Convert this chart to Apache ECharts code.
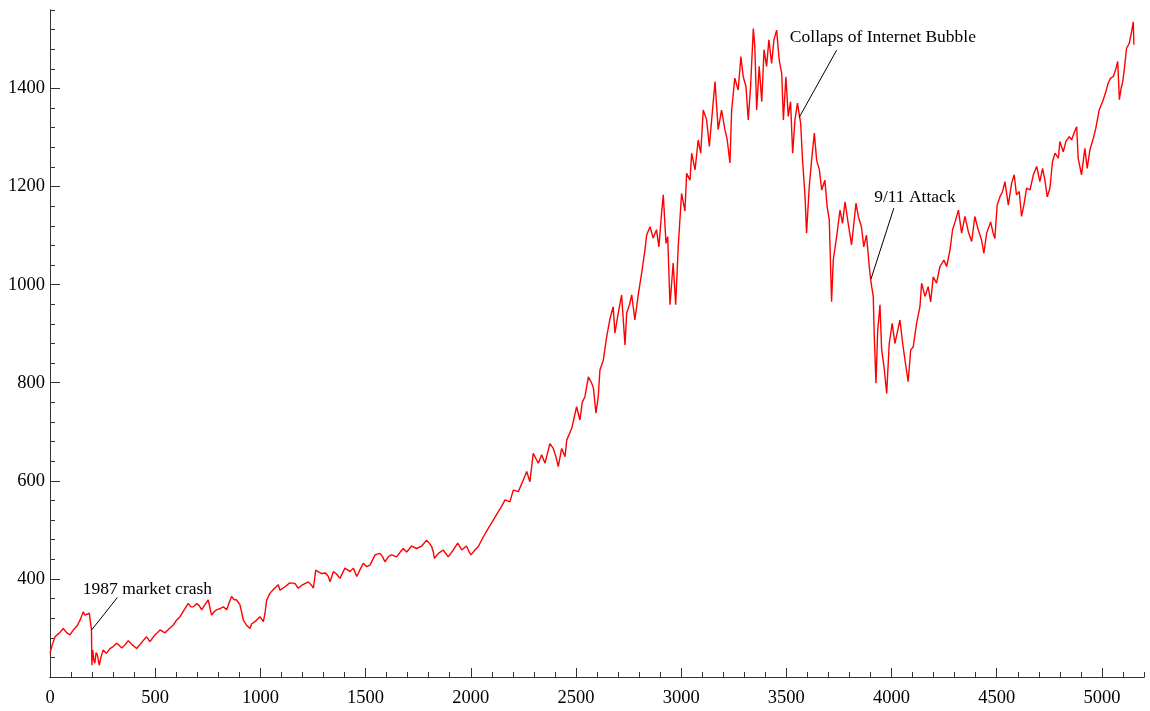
<!DOCTYPE html>
<html>
<head>
<meta charset="utf-8">
<title>S&amp;P 500 daily close</title>
<script src="https://cdn.jsdelivr.net/npm/echarts@6/dist/echarts.min.js"></script>
<style>
  html, body { margin: 0; padding: 0; background: #fff; }
  #chart { width: 1150px; height: 711px; }
</style>
</head>
<body>
<div id="chart"></div>
<script>
// Trading-day index (x) and closing level (y) of the index, 1987 onwards
const tradingDay = [
  0,10,24,45,63,80,95,111,130,145,158,166,174,187,193,197,199,203,208,213,219,225,234,243,253,268,285,300,317,330,
  341,355,372,390,412,435,459,475,495,510,523,547,565,586,600,618,635,657,670,681,697,710,721,737,752,768,780,792,810,824,
  840,852,863,875,887,903,912,919,935,951,958,966,980,998,1006,1014,1022,1030,1046,1065,1085,1093,
  1117,1140,1164,1180,1200,1228,1245,1252,1263,1278,1291,1310,1323,1331,1347,1362,1378,1402,1426,1442,1458,1475,1489,1505,1521,
  1545,1568,1580,1592,1610,1624,1648,1665,1679,1695,1719,1743,1767,1790,1805,1814,1822,1827,1846,1869,1893,1917,1938,1957,1980,
  1992,2001,2020,2036,2060,2083,2107,2131,
  2145,2163,2186,2202,2226,2250,2266,2281,2297,2310,2321,2337,2353,2376,2392,2405,2416,2432,2448,2456,2480,2503,2519,2530,2543,
  2559,2575,2583,2595,2606,2614,2630,2646,2662,2677,2685,2701,2717,2733,2741,2755,2765,2780,2796,2812,2828,2836,2852,2867,2883,
  2894,2907,2915,2928,2936,2947,2962,2974,2986,
  3002,3018,3026,3042,3050,3066,3081,3093,3105,3121,3134,3145,3161,3176,3192,3208,3219,3232,3240,3255,3271,3284,3295,3308,3319,
  3330,3343,3350,3359,3371,3383,3394,3406,3417,3430,3441,3454,3466,3478,3486,3498,3509,3520,3530,3541,3553,3568,3577,3589,3596,
  3609,3620,3633,3644,3657,3668,3683,3694,3704,3715,3723,3739,3755,3767,3779,3795,3810,3831,3842,3857,3868,3881,3894,3902,3913,
  3918,3926,3934,3945,3953,3964,3977,3989,4003,4016,4040,4053,4064,4079,4091,4103,4119,4135,4143,4159,4174,4186,4198,4214,4230,
  4249,4262,4278,4290,4302,4318,4333,4349,4365,4381,4396,4412,4428,4439,4452,4471,4483,4491,4502,
  4515,4528,4539,4555,4571,4583,4594,4607,4618,4629,4642,4658,4674,4690,4705,4718,4729,4740,4753,4765,4777,4793,4800,4816,4829,
  4845,4856,4867,4880,4887,4903,4919,4930,4943,4959,4971,4987,5003,5019,5030,5041,5054,5067,5075,5083,5091,5099,5107,5117,5130,
  5138,5149,5152
];

const closeLevel = [
  248,265,282,290,299,290,286,296,305,318,333,326,323,330,309,298,224,255,235,228,250,245,224,242,255,248,258,262,269,264,
  259,265,274,266,258,270,282,272,284,290,296,290,298,306,315,323,335,350,343,343,350,345,337,348,357,326,333,337,340,343,
  337,352,364,358,357,347,330,316,305,299,308,309,315,323,326,313,330,357,371,380,388,377,
  384,392,391,381,388,394,386,381,418,414,411,412,405,394,415,410,401,422,415,422,405,420,432,425,428,
  449,452,446,435,446,449,445,455,462,455,467,462,467,479,472,466,455,442,452,459,445,459,473,459,467,
  455,449,459,466,486,503,520,537,
  547,561,557,581,578,602,619,598,656,645,636,653,636,676,666,649,629,666,649,683,707,751,724,760,772,
  812,799,789,738,772,826,846,894,931,955,901,942,979,877,942,960,979,928,979,1023,1071,1101,1118,1095,1112,
  1077,1146,1183,1084,1098,959,1044,959,1077,
  1186,1150,1227,1213,1268,1234,1295,1268,1356,1336,1282,1336,1414,1316,1356,1316,1295,1248,1356,1421,1397,1465,1424,1404,1336,
  1404,1522,1486,1356,1445,1373,1479,1445,1499,1451,1499,1519,1458,1431,1336,1424,1343,1373,1268,1336,1370,1329,1254,1179,1105,
  1200,1254,1309,1254,1234,1193,1213,1159,1132,965,1050,1098,1152,1125,1169,1122,1081,1166,1139,1118,1077,1101,1037,1006,976,
  894,799,904,959,867,833,778,880,921,880,928,880,846,802,867,873,921,955,1003,976,996,965,1016,1003,1037,
  1050,1037,1071,1112,1128,1152,1105,1139,1108,1088,1139,1112,1091,1064,1105,1128,1105,1094,1162,
  1179,1190,1210,1162,1207,1224,1183,1190,1139,1162,1197,1193,1224,1241,1210,1237,1213,1179,1197,1251,1268,1258,1292,1271,1292,
  1302,1295,1309,1322,1258,1224,1278,1237,1275,1298,1319,1356,1373,1394,1411,1421,1424,1441,1455,1377,1400,1414,1441,1482,1492,
  1509,1536,1489
];

// Axis ranges and tick spacing
const xRange = [0, 5200];
const yRange = [200, 1560];
const xMajorStep = 500, xMinorStep = 100;
const yMajorStep = 200, yMinorStep = 40;

// Event notes: text, where the pointer touches the curve, where it meets the text, text centre
const noteText = ['1987 market crash', 'Collaps of Internet Bubble', '9/11 Attack'];
const notePointAt = [[198, 296], [3561, 1341], [3902, 1011]];
const notePointerEnd = [[320, 362], [3739, 1478], [4011, 1156]];
const noteTextAt = [[463, 379], [3959, 1505], [4111, 1177]];

const FONT = '"Liberation Serif", "Times New Roman", serif';
const AXIS_COLOR = '#333';

const seriesData = tradingDay.map((d, i) => [d, closeLevel[i]]);

const chart = echarts.init(document.getElementById('chart'), null, { renderer: 'canvas' });

// One labelled axis with long inward ticks, plus an unlabelled twin carrying the short minor ticks
function axisPair(range, majorStep, minorStep, majorLen, labelMargin, labelPadding, position, hideMin) {
  const common = {
    type: 'value',
    min: range[0],
    max: range[1],
    position: position,
    offset: 0,
    splitLine: { show: false },
    splitArea: { show: false },
    axisLine: { show: true, onZero: false, lineStyle: { color: AXIS_COLOR, width: 1 } }
  };
  return [
    Object.assign({}, common, {
      interval: majorStep,
      axisTick: { show: true, inside: true, length: majorLen, lineStyle: { color: AXIS_COLOR, width: 1 } },
      axisLabel: {
        show: true,
        showMinLabel: !hideMin,
        showMaxLabel: false,
        margin: labelMargin,
        padding: labelPadding,
        color: '#000',
        fontFamily: FONT,
        fontSize: 18.5,
        formatter: v => String(v)
      }
    }),
    Object.assign({}, common, {
      interval: minorStep,
      axisTick: { show: true, inside: true, length: 5, lineStyle: { color: AXIS_COLOR, width: 1 } },
      axisLabel: { show: false }
    })
  ];
}

chart.setOption({
  animation: false,
  backgroundColor: '#ffffff',
  grid: { left: 50, right: 6, top: 10, bottom: 34, containLabel: false },
  xAxis: axisPair(xRange, xMajorStep, xMinorStep, 9, 12, 0, 'bottom', false),
  yAxis: axisPair(yRange, yMajorStep, yMinorStep, 10, 5, [7, 0, 0, 0], 'left', true),
  series: [{
    type: 'line',
    xAxisIndex: 0,
    yAxisIndex: 0,
    data: seriesData,
    showSymbol: false,
    symbol: 'none',
    lineStyle: { color: '#ff0000', width: 1.4 },
    silent: true,
    markLine: {
      silent: true,
      symbol: ['none', 'none'],
      lineStyle: { color: '#000', width: 1, type: 'solid' },
      label: { show: false },
      data: notePointAt.map((p, i) => [{ coord: p }, { coord: notePointerEnd[i] }])
    },
    markPoint: {
      silent: true,
      symbol: 'circle',
      symbolSize: 0,
      data: noteText.map((t, i) => ({
        coord: noteTextAt[i],
        label: {
          show: true,
          position: 'inside',
          formatter: t,
          color: '#000',
          fontFamily: FONT,
          fontSize: 17.5
        }
      }))
    }
  }]
});
</script>
</body>
</html>
